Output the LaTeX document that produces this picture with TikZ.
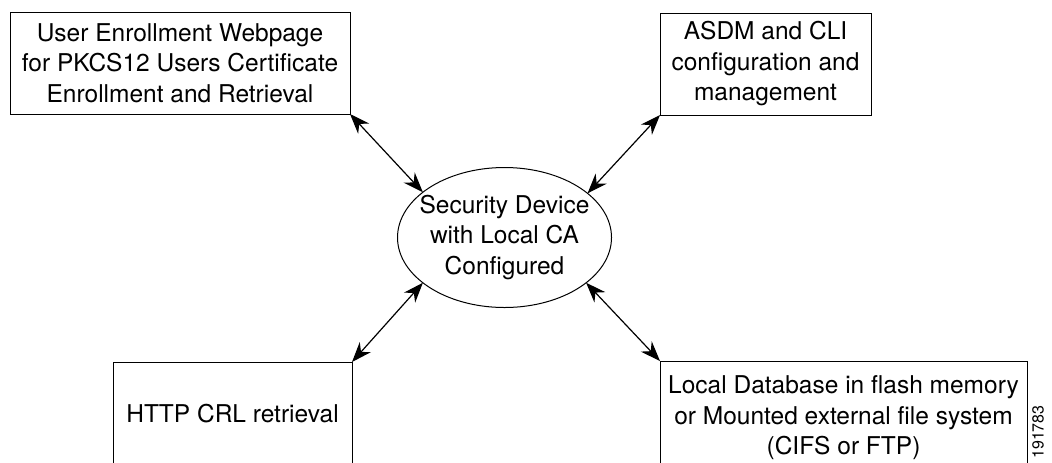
\documentclass[tikz,border=0pt]{standalone}
\usepackage{fontspec}
\setmainfont{TeX Gyre Heros}
\usetikzlibrary{arrows.meta,shapes.geometric}

\begin{document}
\begin{tikzpicture}[x=0.5pt,y=-0.5pt,<->,>={Stealth[length=10pt,width=7.5pt]},
  box/.style={rectangle,draw,line width=0.5pt,align=center,inner sep=0pt,outer sep=0pt,font=\fontsize{12.25}{15.25}\selectfont},
  device/.style={ellipse,draw,line width=0.5pt,inner sep=0pt,outer sep=0pt,minimum width=107pt,minimum height=70pt}]

  \clip (0,0) rectangle (1052,462);

  \node[device,label={[align=center,font=\fontsize{12.25}{15.25}\selectfont]center:Security Device\\with Local CA\\Configured}] (dev) at (504.5,237.5) {};

  \node[box,minimum width=170pt,minimum height=51pt] (web) at (180,63) {User Enrollment Webpage\\for PKCS12 Users Certificate\\Enrollment and Retrieval};
  \node[box,minimum width=105.5pt,minimum height=51pt] (asdm) at (765.5,64) {ASDM and CLI\\configuration and\\management};
  \node[box,minimum width=119.5pt,minimum height=52pt] (crl) at (232.5,414) {HTTP CRL retrieval};
  \node[box,minimum width=183.5pt,minimum height=57pt] (db) at (843.5,418) {Local Database in flash memory\\or Mounted external file system\\(CIFS or FTP)};

  \node[rotate=90,font=\fontsize{8}{9}\selectfont] (fig) at (1038,432) {191783};

  \path[line width=0.6pt]
    (web.south east) edge (dev.151)
    (asdm.south west) edge (dev.28)
    (crl.north east) edge (dev.209)
    (db.north west) edge (dev.331);

\end{tikzpicture}
\end{document}
